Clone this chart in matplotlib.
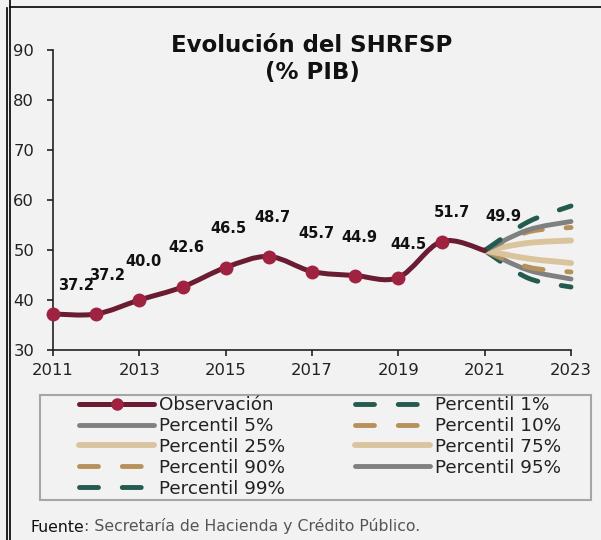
import numpy as np
import matplotlib.pyplot as plt
from matplotlib.path import Path
from matplotlib.patches import PathPatch, Rectangle
from matplotlib.lines import Line2D

# ---------------------------------------------------------------
# data
years = [2011, 2012, 2013, 2014, 2015, 2016, 2017, 2018, 2019, 2020, 2021]
shrfsp = [37.2, 37.2, 40.0, 42.6, 46.5, 48.7, 45.7, 44.9, 44.5, 51.7, 49.9]
labels = ["37.2", "37.2", "40.0", "42.6", "46.5", "48.7", "45.7", "44.9", "44.5", "51.7", "49.9"]

proj_years = [2021, 2022, 2023]
p1 = [49.9, 44.4, 42.6]
p5 = [49.9, 46.0, 44.2]
p10 = [49.9, 46.6, 45.6]
p25 = [49.9, 48.3, 47.4]
p75 = [49.9, 51.4, 51.9]
p90 = [49.9, 53.6, 54.5]
p95 = [49.9, 54.0, 55.7]
p99 = [49.9, 55.6, 58.8]

# label offsets (px) relative to each point
lab_dx = [23, 11, 4, 4, 3, 4, 4, 4, 10, 10, 19]
lab_dy = [29, 39, 38, 39, 39, 39, 38, 38, 33, 29, 34]

# colours
GUINDA = '#691c32'
GUINDA_M = '#9f2241'
GREEN = '#235b4e'
TAN = '#b8915a'
LTAN = '#d9c49e'
GRAY = '#808080'
BG = '#f2f2f2'


def smooth_path(x, y):
    # excel style smoothed line (bezier through the points)
    x = np.asarray(x, float)
    y = np.asarray(y, float)
    n = len(x)
    verts = [(x[0], y[0])]
    codes = [Path.MOVETO]
    for i in range(n - 1):
        i0 = max(i - 1, 0)
        i3 = min(i + 2, n - 1)
        c1 = (x[i] + (x[i + 1] - x[i0]) / 6, y[i] + (y[i + 1] - y[i0]) / 6)
        c2 = (x[i + 1] - (x[i3] - x[i]) / 6, y[i + 1] - (y[i3] - y[i]) / 6)
        verts += [c1, c2, (x[i + 1], y[i + 1])]
        codes += [Path.CURVE4] * 3
    return Path(verts, codes)


fig = plt.figure(figsize=(6.01, 5.4), dpi=100, facecolor=BG)
ax = fig.add_axes([53 / 601, 190 / 540, 518 / 601, 300 / 540])
ax.set_facecolor(BG)

dash = (0, (3.9, 4.9))
series = [
    (p1, GREEN, dash, 3.5, 'Percentil 1%'),
    (p5, GRAY, '-', 3.5, 'Percentil 5%'),
    (p10, TAN, dash, 3.5, 'Percentil 10%'),
    (p25, LTAN, '-', 4.2, 'Percentil 25%'),
    (p75, LTAN, '-', 4.2, 'Percentil 75%'),
    (p90, TAN, dash, 3.5, 'Percentil 90%'),
    (p95, GRAY, '-', 3.5, 'Percentil 95%'),
    (p99, GREEN, dash, 3.5, 'Percentil 99%'),
]
handles = {}
for vals, col, ls, lw, name in series:
    patch = PathPatch(smooth_path(proj_years, vals), fill=False, edgecolor=col,
                      linewidth=lw, linestyle=ls, capstyle='round', clip_on=False, zorder=2)
    ax.add_patch(patch)
    handles[name] = Line2D([], [], color=col, linewidth=lw, linestyle=ls,
                           solid_capstyle='round', dash_capstyle='round')

ax.add_patch(PathPatch(smooth_path(years, shrfsp), fill=False, edgecolor=GUINDA,
                       linewidth=3.6, capstyle='round', clip_on=False, zorder=3))
ax.plot(years[:-1], shrfsp[:-1], 'o', color=GUINDA_M, markersize=10,
        markeredgewidth=0, clip_on=False, zorder=4)
handles['Observación'] = Line2D([], [], color=GUINDA, linewidth=3.6, marker='o',
                                markersize=9, markerfacecolor=GUINDA_M,
                                markeredgewidth=0, solid_capstyle='round')

for x, v, t, dx, dy in zip(years, shrfsp, labels, lab_dx, lab_dy):
    ax.annotate(t, (x, v), xytext=(dx * 0.72, dy * 0.72), textcoords='offset points',
                ha='center', va='center', fontsize=10.5, fontweight='bold', color='#111111')

ax.set_xlim(2011, 2023)
ax.set_ylim(30, 90)
ax.set_xticks([2011, 2013, 2015, 2017, 2019, 2021, 2023])
ax.set_yticks([30, 40, 50, 60, 70, 80, 90])
for s in ['top', 'right']:
    ax.spines[s].set_visible(False)
for s in ['left', 'bottom']:
    ax.spines[s].set_color('#222222')
    ax.spines[s].set_linewidth(1.2)
ax.tick_params(axis='both', direction='out', length=4.5, width=1.2, color='#222222',
               labelsize=11.8, labelcolor='#222222')
ax.tick_params(axis='y', pad=9)
ax.tick_params(axis='x', pad=5)

fig.text(312 / 601, 1 - 59 / 540, 'Evolución del SHRFSP\n(% PIB)', ha='center', va='center',
         fontsize=16.5, fontweight='bold', color='#111111', linespacing=1.2)

# legend: box drawn separately, two columns placed by hand
fig.add_artist(Rectangle((40 / 601, 1 - 500 / 540), 551 / 601, 105 / 540,
                         transform=fig.transFigure, facecolor=BG, edgecolor='#a6a6a6',
                         linewidth=1.5, zorder=1))
col1 = ['Observación', 'Percentil 5%', 'Percentil 25%', 'Percentil 90%', 'Percentil 99%']
col2 = ['Percentil 1%', 'Percentil 10%', 'Percentil 75%', 'Percentil 95%']
for names, x0 in [(col1, 79), (col2, 355)]:
    leg = fig.legend([handles[k] for k in names], names, loc='upper left',
                     bbox_to_anchor=(x0 / 601, 1 - 396 / 540), bbox_transform=fig.transFigure,
                     fontsize=13.2, frameon=False, handlelength=4.1,
                     handletextpad=0.25, labelspacing=0.16, borderpad=0, borderaxespad=0)
    leg.set_zorder(2)
    for t in leg.get_texts():
        t.set_color('#222222')

ft = fig.text(30 / 601, 1 - 527 / 540, 'Fuente', ha='left', va='center', fontsize=11.3,
              color='#111111')
ax.annotate(': Secretaría de Hacienda y Crédito Público.', xy=(1, 0), xycoords=ft,
            va='bottom', ha='left', fontsize=11.3, color='#555555', annotation_clip=False)

# frame lines of the box
fig.add_artist(Line2D([6.5 / 601, 6.5 / 601], [0, 1 - 8 / 540], color='black', lw=1.2,
                      transform=fig.transFigure))
fig.add_artist(Line2D([10.5 / 601, 10.5 / 601], [0, 1], color='black', lw=1.2,
                      transform=fig.transFigure))
fig.add_artist(Line2D([10 / 601, 1], [1 - 7 / 540, 1 - 7 / 540], color='black', lw=1.2,
                      transform=fig.transFigure))

fig.savefig('out.png', dpi=100, facecolor=BG)
